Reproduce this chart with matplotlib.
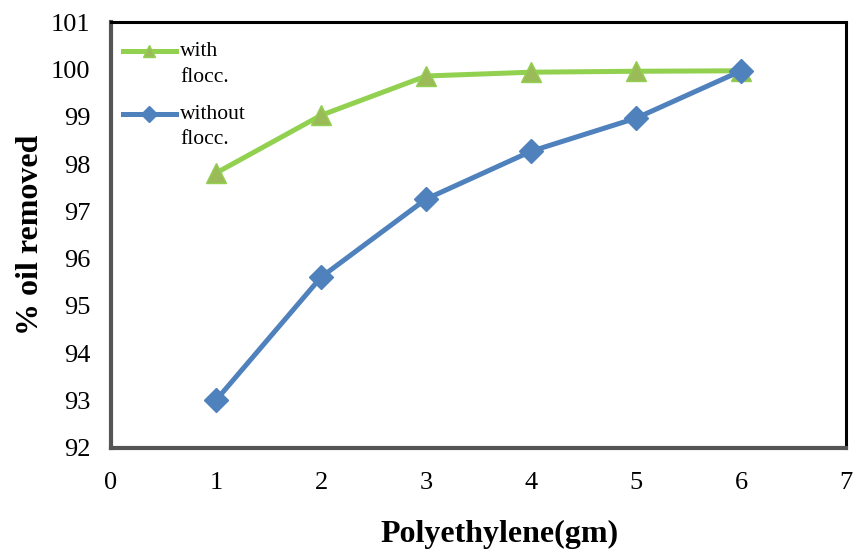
import matplotlib
matplotlib.use("Agg")
import matplotlib.pyplot as plt
from matplotlib.legend_handler import HandlerLine2D

# Polyethylene dose (gm) and oil removal (%)
polyethylene = [1, 2, 3, 4, 5, 6]
with_flocc = [97.81, 99.03, 99.86, 99.94, 99.96, 99.97]
without_flocc = [93.01, 95.61, 97.26, 98.27, 98.97, 99.97]
x_ticks = [0, 1, 2, 3, 4, 5, 6, 7]
y_ticks = [92, 93, 94, 95, 96, 97, 98, 99, 100, 101]

plt.rcParams['font.family'] = ['Liberation Serif', 'DejaVu Serif']

LEGEND_FS = 15.5
LEGEND_LS = 1.45


class TopAlignedLine(HandlerLine2D):
    """Place a small legend line beside the first line of a two-line label."""
    def create_artists(self, legend, orig_handle, xdescent, ydescent,
                       width, height, fontsize, trans):
        artists = super().create_artists(legend, orig_handle, xdescent,
                                         ydescent, width, height, fontsize,
                                         trans)
        shift = 0.42 * LEGEND_LS * fontsize
        for a in artists:
            a.set_ydata([y + shift for y in a.get_ydata()])
            if a.get_marker() not in (None, 'None', ''):
                a.set_markersize(8)
        return artists


fig = plt.figure(figsize=(8.54, 5.51), dpi=100)
ax = fig.add_axes([0.130, 0.187, 0.861, 0.773])

ax.plot(polyethylene, with_flocc, color='#92D050', linewidth=3.6,
        marker='^', markersize=14.5, markerfacecolor='#9BBB59',
        markeredgecolor='#92D050', markeredgewidth=1, label='with\nflocc.')
ax.plot(polyethylene, without_flocc, color='#4F81BD', linewidth=3.6,
        marker='D', markersize=12, markerfacecolor='#4F81BD',
        markeredgecolor='#4F81BD', label='without\nflocc.')

ax.set_xlim(0, 7)
ax.set_ylim(92, 101)
ax.set_xticks(x_ticks)
ax.set_yticks(y_ticks)
ax.tick_params(axis='both', length=0, labelsize=19, colors='black')
ax.tick_params(axis='x', pad=17)
ax.tick_params(axis='y', pad=15)

for side in ('top', 'right'):
    ax.spines[side].set_linewidth(2.2)
    ax.spines[side].set_color('black')
for side in ('left', 'bottom'):
    ax.spines[side].set_linewidth(3.0)
    ax.spines[side].set_color('#555555')

ax.set_xlabel('Polyethylene(gm)', fontsize=23, fontweight='bold')
ax.set_ylabel('% oil removed', fontsize=23, fontweight='bold')
ax.xaxis.set_label_coords(0.529, -0.168)
ax.yaxis.set_label_coords(-0.090, 0.5)

leg = ax.legend(loc='upper left', bbox_to_anchor=(0.0, 0.98), frameon=False,
                fontsize=LEGEND_FS, handlelength=2.45, handletextpad=0.2,
                labelspacing=0.85, borderaxespad=0.15,
                handler_map={plt.Line2D: TopAlignedLine()})
for t in leg.get_texts():
    t.set_linespacing(LEGEND_LS)

fig.savefig('out.png', dpi=100)
